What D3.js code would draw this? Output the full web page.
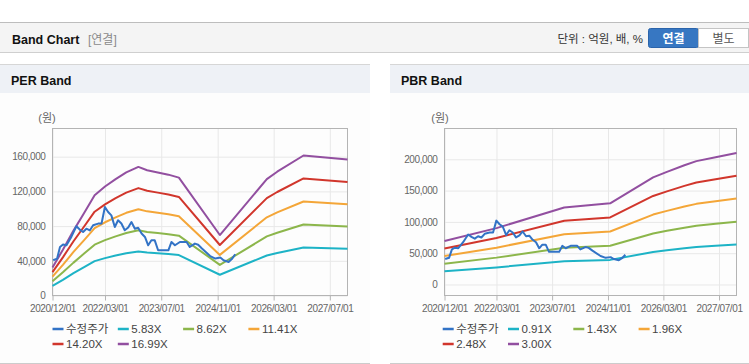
<!DOCTYPE html>
<html><head><meta charset="utf-8">
<script src="https://cdn.jsdelivr.net/npm/d3@7"></script>
<style>
html,body{margin:0;padding:0;background:#fff;}
svg{display:block;font-family:"Liberation Sans","Noto Sans CJK KR",Arial,sans-serif;}
</style></head><body>
<svg id="c" width="749" height="364"></svg>
<script>
// ---------- data ----------
const xTickLabels = ["2020/12/01","2022/03/01","2023/07/01","2024/11/01","2026/03/01","2027/07/01"];
const xStart = "2020-12-01", xEnd = "2027-12-01";

const priceName = "수정주가";
const priceDates = ["2020-12-07","2021-01-10","2021-02-04","2021-03-02","2021-04-01","2021-05-13","2021-06-26","2021-07-25","2021-08-23","2021-09-21","2021-10-20","2021-11-18","2022-01-01","2022-01-30","2022-02-28","2022-03-28","2022-04-25","2022-05-25","2022-06-22","2022-07-21","2022-08-19","2022-09-18","2022-10-16","2022-11-15","2022-12-13","2023-01-12","2023-02-10","2023-03-10","2023-04-07","2023-05-06","2023-06-04","2023-07-16","2023-09-01","2023-09-28","2023-10-28","2023-12-10","2024-02-06","2024-03-04","2024-04-18","2024-05-16","2024-06-18","2024-08-28","2024-10-12","2024-11-24","2024-12-22","2025-02-04","2025-03-04","2025-04-02"];
const priceValues = [40600,42600,56000,58700,58000,67500,79800,76000,73200,77000,75000,80900,82900,83000,102000,96200,92400,79000,86700,83000,75200,78300,84700,77000,78000,71400,67500,57900,63600,63600,52100,52100,52100,61700,57900,61700,61700,56000,59800,58500,54100,45500,42600,43700,40600,38700,42000,47500];

// PER band
const perLabels = ["5.83X","8.62X","11.41X","14.20X","16.99X"];
const perDates = ["2020-12-01","2021-03-01","2021-06-01","2021-09-01","2021-12-01","2022-03-01","2022-06-01","2022-09-01","2022-12-15","2023-03-01","2023-06-01","2023-09-01","2023-12-01","2024-11-20","2026-01-01","2026-04-01","2026-11-15","2027-12-01"];
const per583  = [11100,18100,25700,32600,39600,43100,46100,48700,50800,49600,48700,47800,46600,23900,46100,49000,55400,53800];
const per862  = [16400,26700,37900,48300,58600,63800,68100,72000,75200,73300,72000,70700,69000,35300,68100,72400,81900,79500];
const per1141 = [21700,35400,50200,63900,77600,84400,90100,95300,99500,97000,95300,93600,91300,46800,90100,95800,108400,105200];
const per1420 = [27000,44000,62500,79500,96600,105100,112200,118600,123800,120700,118600,116400,113600,58200,112200,119300,134900,130900];
const per1699 = [32300,52700,74800,95100,115500,125700,134200,141900,148200,144400,141900,139300,135900,69700,134200,142700,161400,156700];
const perYTicks = [0,40000,80000,120000,160000];

// PBR band
const pbrLabels = ["0.91X","1.43X","1.96X","2.48X","3.00X"];
const pbrDates = ["2020-12-01","2022-03-01","2023-10-15","2024-11-20","2025-12-01","2026-04-01","2026-09-01","2026-12-15","2027-06-01","2027-12-01"];
const pbr091 = [21100,27300,37300,39300,51900,54600,57800,59800,61700,63700];
const pbr143 = [33200,42900,58600,61800,81500,85800,90800,94000,97000,100100];
const pbr196 = [45500,58800,80400,84700,111700,117600,124500,128800,132900,137200];
const pbr248 = [57500,74400,101700,107100,141400,148800,157500,162900,168100,173600];
const pbr300 = [69600,90000,123000,129600,171000,180000,190500,197100,203400,210000];
const pbrYTicks = [0,50000,100000,150000,200000];

const colors = ["#3273c6","#1db3c6","#8cb64b","#f4a638","#d1362c","#924fa0"];

// ---------- drawing ----------
const svg = d3.select("#c");
const pd = d3.utcParse("%Y-%m-%d");
const pt = d3.utcParse("%Y/%m/%d");

// top header
svg.append("rect").attr("x",0).attr("y",23).attr("width",749).attr("height",29).attr("fill","#f4f4f4");
svg.append("line").attr("x1",0).attr("x2",749).attr("y1",22.5).attr("y2",22.5).attr("stroke","#bdbdbd");
svg.append("line").attr("x1",0).attr("x2",749).attr("y1",52.5).attr("y2",52.5).attr("stroke","#cfcfcf");
svg.append("text").attr("x",12).attr("y",44).attr("font-size",12.5).attr("font-weight","bold").attr("fill","#111").text("Band Chart");
svg.append("text").attr("x",88).attr("y",44).attr("font-size",12).attr("fill","#8a8a8a").text("[연결]");
svg.append("text").attr("x",643).attr("y",43).attr("font-size",11.5).attr("text-anchor","end").attr("fill","#333").text("단위 : 억원, 배, %");
svg.append("rect").attr("x",648.5).attr("y",28.5).attr("width",50).attr("height",19).attr("rx",2).attr("fill","#3777c2").attr("stroke","#2b64ab");
svg.append("text").attr("x",673.5).attr("y",42.5).attr("font-size",12).attr("font-weight","bold").attr("text-anchor","middle").attr("fill","#fff").text("연결");
svg.append("rect").attr("x",698.5).attr("y",28.5).attr("width",50).attr("height",19).attr("fill","#fff").attr("stroke","#c4c4c4");
svg.append("text").attr("x",723.5).attr("y",42.5).attr("font-size",12).attr("text-anchor","middle").attr("fill","#555").text("별도");

function drawPanel(cfg) {
  const g = svg.append("g");
  const pw = cfg.px1 - cfg.px0;
  g.append("rect").attr("x",cfg.px0).attr("y",65).attr("width",pw).attr("height",298).attr("fill","#fdfdfd");
  g.append("rect").attr("x",cfg.px0).attr("y",65).attr("width",pw).attr("height",28).attr("fill","#eef1f6");
  g.append("line").attr("x1",cfg.px0).attr("x2",cfg.px1).attr("y1",64.5).attr("y2",64.5).attr("stroke","#d6d6d6");
  g.append("line").attr("x1",cfg.px0).attr("x2",cfg.px1).attr("y1",363.5).attr("y2",363.5).attr("stroke","#cccccc");
  g.append("text").attr("x",cfg.px0+11).attr("y",85).attr("font-size",12.5).attr("font-weight","bold").attr("fill","#111").text(cfg.title);

  const top = 128.5, bottom = 295.5, left = cfg.left, right = cfg.right;
  const x = d3.scaleUtc().domain([pd(xStart), pd(xEnd)]).range([left, right]);
  const y = d3.scaleLinear().domain(cfg.yDomain).range([bottom, top]);
  const xt = xTickLabels.map(pt);

  g.append("text").attr("x",cfg.unitX).attr("y",122).attr("font-size",11).attr("text-anchor","middle").attr("fill","#666").text("(원)");

  // grids
  g.append("g").attr("transform",`translate(${left},0)`)
    .call(d3.axisLeft(y).tickValues(cfg.yTicks).tickSize(-(right-left)).tickFormat(""))
    .call(s=>{s.select(".domain").remove(); s.selectAll("line").attr("stroke","#e8e8e8");});
  g.append("g").attr("transform",`translate(0,${top})`)
    .call(d3.axisBottom(x).tickValues(xt).tickSize(bottom-top).tickFormat(""))
    .call(s=>{s.select(".domain").remove(); s.selectAll("line").attr("stroke","#e8e8e8");});

  // frame
  g.append("rect").attr("x",left).attr("y",top).attr("width",right-left).attr("height",bottom-top)
    .attr("fill","none").attr("stroke","#b4b4b4");

  // axes
  g.append("g").attr("transform",`translate(0,${bottom})`)
    .call(d3.axisBottom(x).tickValues(xt).tickSize(5).tickPadding(4).tickFormat(d3.utcFormat("%Y/%m/%d")))
    .call(s=>{s.select(".domain").remove(); s.selectAll("line").attr("stroke","#b4b4b4");
      s.selectAll("text").attr("font-size",10).attr("fill","#666").attr("letter-spacing","-0.4px").attr("font-family",null);});
  g.append("g").attr("transform",`translate(${left},0)`)
    .call(d3.axisLeft(y).tickValues(cfg.yTicks).tickSize(0).tickPadding(7).tickFormat(d3.format(",")))
    .call(s=>{s.select(".domain").remove();
      s.selectAll("text").attr("font-size",10).attr("fill","#666").attr("letter-spacing","-0.4px").attr("font-family",null);});

  // lines
  const line = d3.line().x(d=>x(d.d)).y(d=>y(d.v));
  const bandDates = cfg.bandDates.map(pd);
  cfg.bands.forEach((vals,i)=>{
    const data = vals.map((v,j)=>({d:bandDates[j], v}));
    g.append("path").datum(data).attr("d",line).attr("fill","none")
      .attr("stroke",colors[i+1]).attr("stroke-width",2).attr("stroke-linejoin","round");
  });
  const pdata = priceValues.map((v,j)=>({d:pd(priceDates[j]), v}));
  g.append("path").datum(pdata).attr("d",line).attr("fill","none")
    .attr("stroke",colors[0]).attr("stroke-width",2).attr("stroke-linejoin","round");

  // legend
  const names = [priceName].concat(cfg.labels);
  names.forEach((n,i)=>{
    const col = i % 4, row = Math.floor(i/4);
    const lx = cfg.legendX + col*65.3, ly = 329 + row*15;
    g.append("line").attr("x1",lx).attr("x2",lx+11).attr("y1",ly).attr("y2",ly)
      .attr("stroke",colors[i]).attr("stroke-width",2.5);
    g.append("text").attr("x",lx+13.5).attr("y",ly).attr("dy","0.36em").attr("font-size",11.5)
      .attr("fill","#444").text(n);
  });
}

drawPanel({px0:0, px1:370, title:"PER Band", left:52.5, right:347.5, unitX:47,
  yDomain:[0,192500], yTicks:perYTicks, bandDates:perDates,
  bands:[per583,per862,per1141,per1420,per1699], labels:perLabels, legendX:52.5});
drawPanel({px0:390, px1:749, title:"PBR Band", left:444.5, right:736.5, unitX:440,
  yDomain:[-17600,249200], yTicks:pbrYTicks, bandDates:pbrDates,
  bands:[pbr091,pbr143,pbr196,pbr248,pbr300], labels:pbrLabels, legendX:442.7});
</script>
</body></html>
